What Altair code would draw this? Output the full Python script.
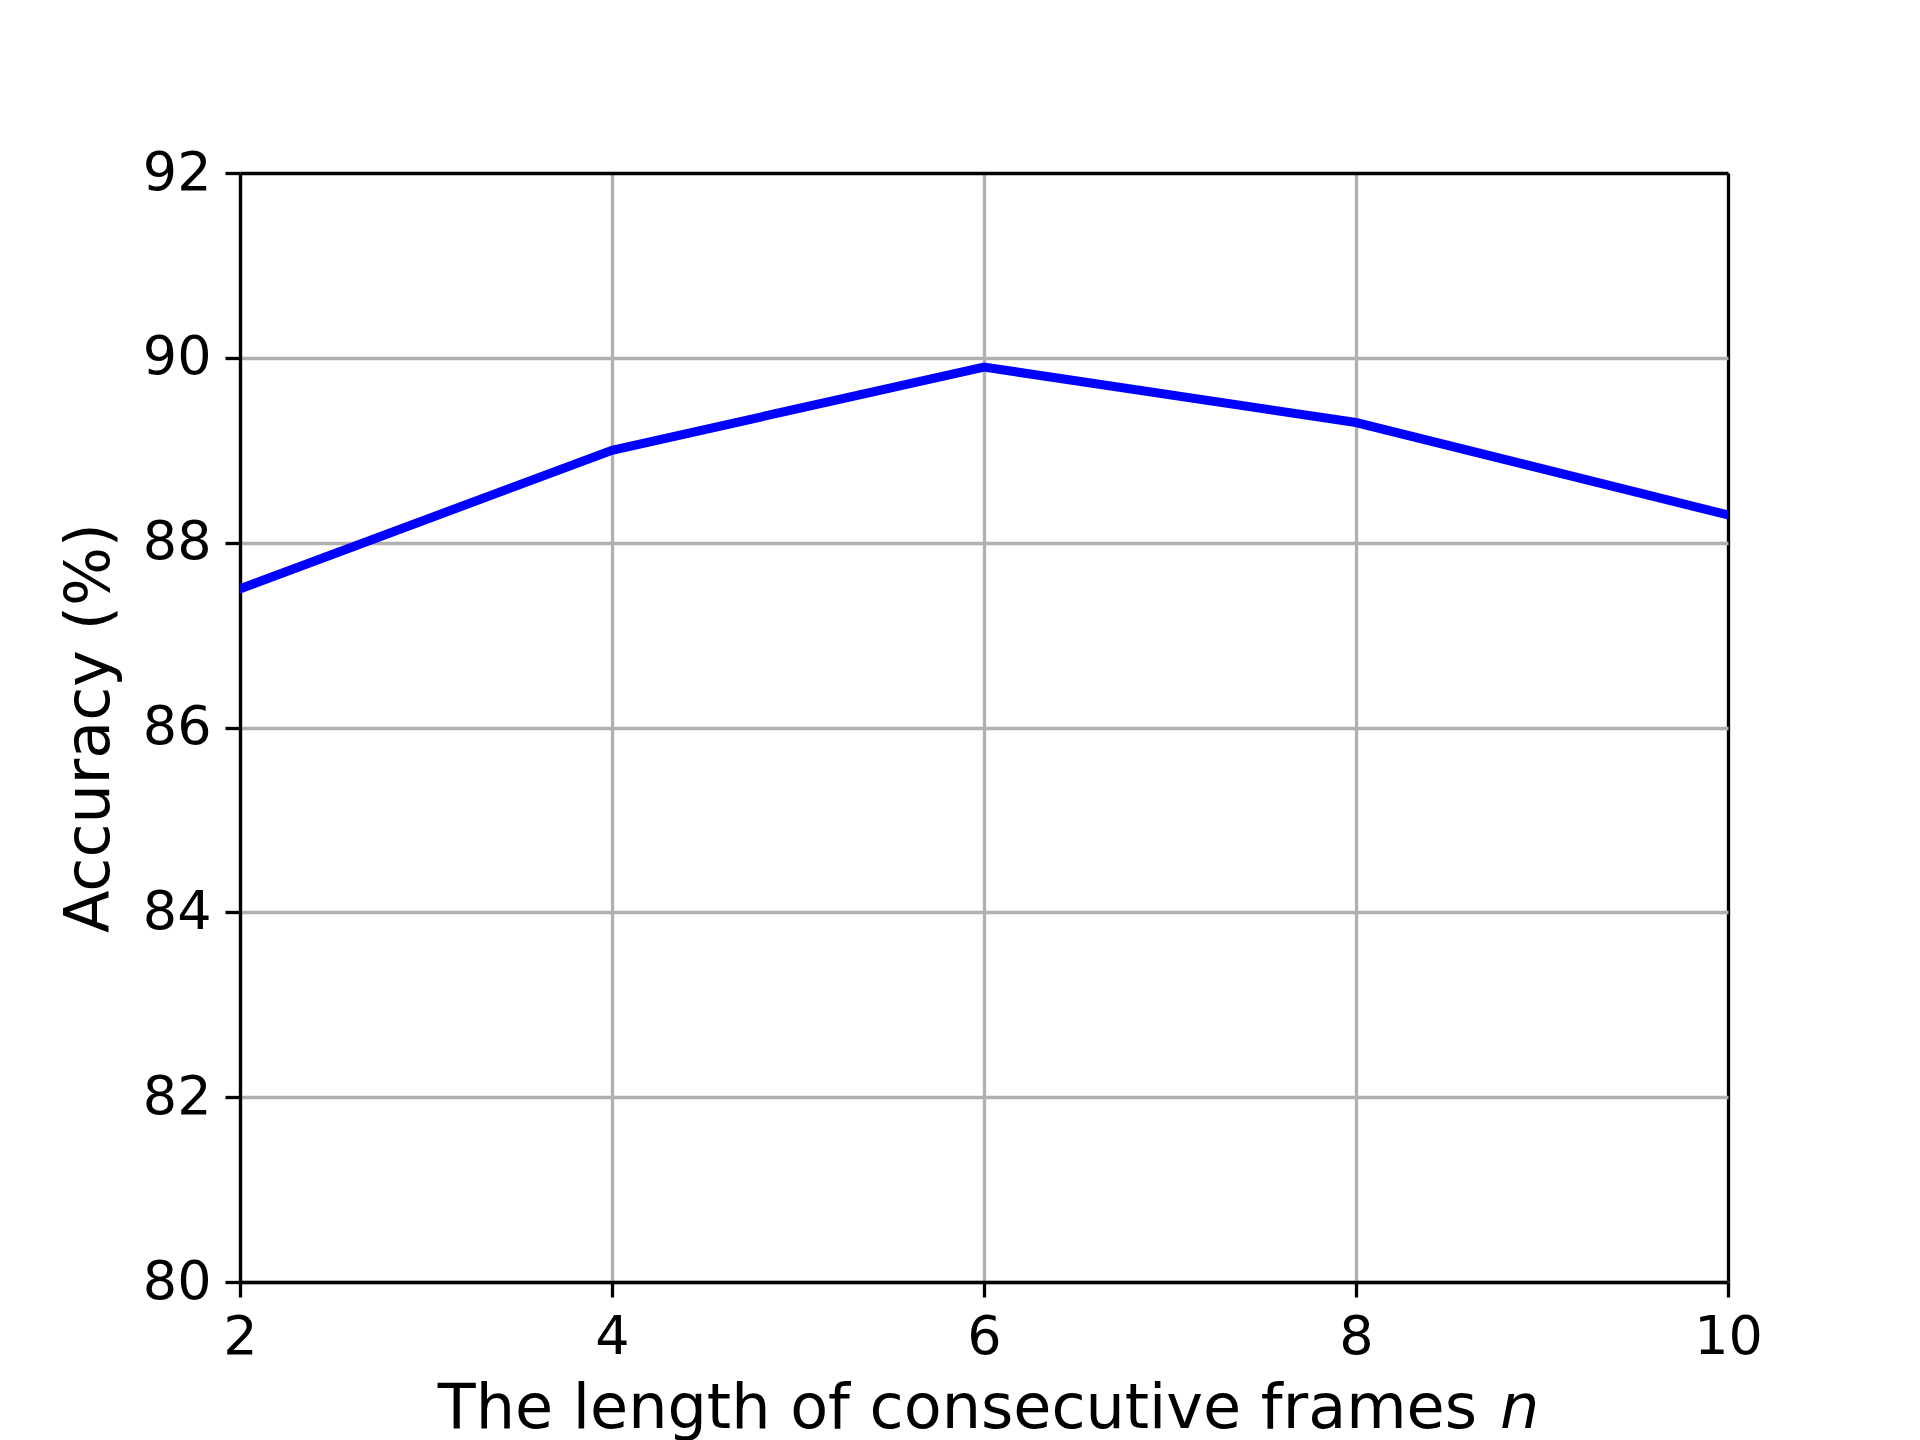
import altair as alt
import pandas as pd

frames = [2, 4, 6, 8, 10]
accuracy = [87.5, 89.0, 89.9, 89.3, 88.3]
y_ticks = [80, 82, 84, 86, 88, 90, 92]
x_ticks = [2, 4, 6, 8, 10]
x_title_main = "The length of consecutive frames"
x_title_var = "n"
y_title = "Accuracy (%)"

df = pd.DataFrame({"n": frames, "acc": accuracy})

FONT = "DejaVu Sans"
W, H = 1488, 1109

base = alt.Chart(df)

line = base.mark_line(color="#0000ff", strokeWidth=9, strokeCap="square", clip=True).encode(
    x=alt.X("n:Q",
            scale=alt.Scale(domain=[2, 10], nice=False, zero=False),
            axis=alt.Axis(values=x_ticks, format="d", title=None,
                          grid=True,
                          gridColor={"condition": {"test": "datum.value == 10", "value": "black"},
                                     "value": "#b0b0b0"},
                          gridWidth=3.3,
                          domainColor="black", domainWidth=3.3,
                          tickColor="black", tickWidth=3.3, tickSize=15,
                          labelFont=FONT, labelFontSize=54, labelColor="black",
                          labelBaseline="alphabetic", labelPadding=56,
                          labelFlush=False)),
    y=alt.Y("acc:Q",
            scale=alt.Scale(domain=[80, 92], nice=False, zero=False),
            axis=alt.Axis(values=y_ticks, format="d", title=y_title,
                          grid=True,
                          gridColor={"condition": {"test": "datum.value == 92", "value": "black"},
                                     "value": "#b0b0b0"},
                          gridWidth=3.3,
                          domainColor="black", domainWidth=3.3,
                          tickColor="black", tickWidth=3.3, tickSize=15,
                          labelFont=FONT, labelFontSize=54, labelColor="black",
                          labelPadding=14, labelFlush=False,
                          titleFont=FONT, titleFontSize=62, titleFontWeight="normal",
                          titleColor="black", titleAngle=270, titleBaseline="alphabetic",
                          titleX=-132, titleY=H / 2, titleAlign="center")),
)

title_main = alt.Chart(pd.DataFrame({"t": [x_title_main]})).mark_text(
    align="right", baseline="alphabetic", font=FONT, fontSize=62, color="black"
).encode(text="t:N", x=alt.value(1237), y=alt.value(1255))

title_var = alt.Chart(pd.DataFrame({"t": [x_title_var]})).mark_text(
    align="left", baseline="alphabetic", font=FONT, fontSize=62, fontStyle="italic", color="black"
).encode(text="t:N", x=alt.value(1260), y=alt.value(1255))

chart = alt.layer(line, title_main, title_var).properties(
    width=W, height=H,
    autosize=alt.AutoSizeParams(type="none"),
    padding={"left": 232, "top": 165, "right": 150, "bottom": 158},
).configure_view(stroke="black", strokeWidth=3.3).configure(background="white")

chart.save("out.html", embed_options={"renderer": "svg", "actions": False})
